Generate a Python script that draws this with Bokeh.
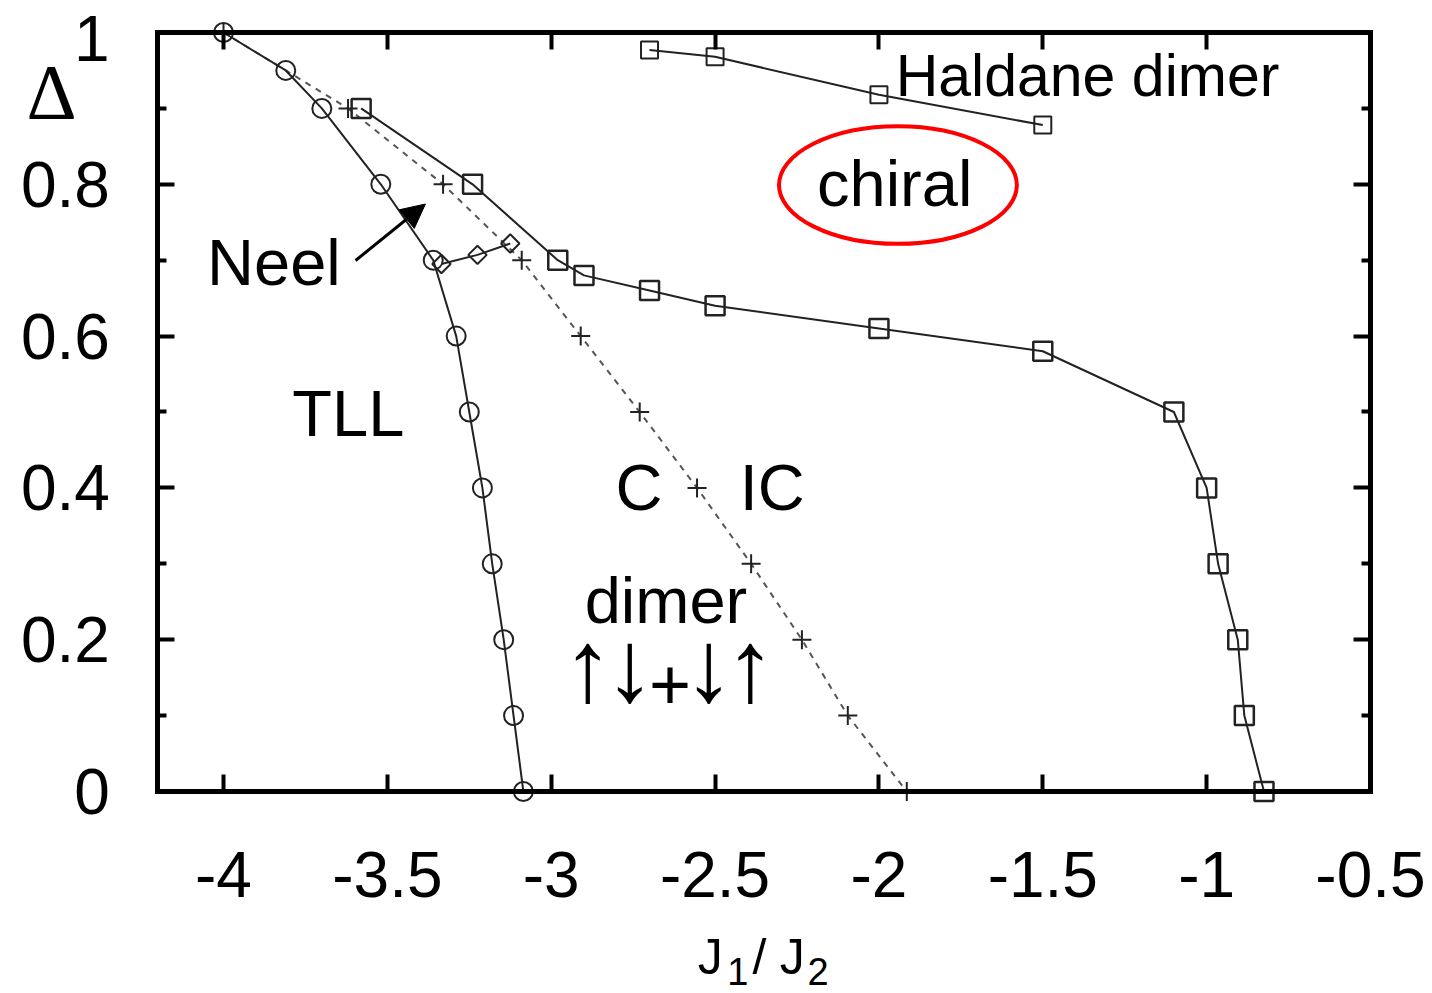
import numpy as np
from bokeh.plotting import figure
from bokeh.models import FixedTicker, LinearAxis, Range1d, Label, Arrow, NormalHead
from bokeh.embed import file_html
from bokeh.resources import INLINE

# ---- phase boundaries, J1/J2 vs Delta ----
# TLL / dimer boundary (circles)
tll_j = [-4.0, -3.81, -3.70, -3.52, -3.36, -3.29, -3.25, -3.21, -3.18, -3.145, -3.115, -3.085]
tll_d = [1.0, 0.95, 0.9, 0.8, 0.7, 0.6, 0.5, 0.4, 0.3, 0.2, 0.1, 0.0]

# commensurate / incommensurate crossover (plus, dashed)
cic_j = [-4.0, -3.62, -3.33, -3.09, -2.91, -2.73, -2.555, -2.39, -2.235, -2.095, -1.915]
cic_d = [1.0, 0.9, 0.8, 0.7, 0.6, 0.5, 0.4, 0.3, 0.2, 0.1, 0.0]

# Neel pocket (diamonds)
neel_j = [-3.335, -3.225, -3.125]
neel_d = [0.695, 0.707, 0.722]

# chiral phase boundary (squares)
chi_j = [-3.58, -3.24, -2.98, -2.90, -2.70, -2.50, -2.00, -1.50, -1.10, -1.00, -0.965, -0.905, -0.885, -0.825]
chi_d = [0.9, 0.8, 0.7, 0.68, 0.66, 0.64, 0.61, 0.58, 0.5, 0.4, 0.3, 0.2, 0.1, 0.0]

# Haldane dimer boundary (small squares)
hd_j = [-2.70, -2.50, -2.00, -1.50]
hd_d = [0.977, 0.968, 0.918, 0.878]

# highlight around the chiral label
ell_x = [-1.942]
ell_y = [0.799]
ell_w = [0.726]
ell_h = [0.155]

# axes box and ticks
x_lo, x_hi = -4.2, -0.5
y_lo, y_hi = 0.0, 1.0
x_ticks = [-4.0, -3.5, -3.0, -2.5, -2.0, -1.5, -1.0, -0.5]
x_tick_labels = ["-4", "-3.5", "-3", "-2.5", "-2", "-1.5", "-1", "-0.5"]
y_ticks = [0.0, 0.2, 0.4, 0.6, 0.8, 1.0]
y_tick_labels = ["0", "0.2", "0.4", "0.6", "0.8", "1"]
y_minor = [0.1, 0.3, 0.5, 0.7, 0.9]

FONT = "Liberation Sans"
INK = "#222222"

# the canvas is all data space; the axes box sits inside it
p = figure(width=1432, height=993,
           x_range=Range1d(-4.6805, -0.3108), y_range=Range1d(-0.26614, 1.04216),
           output_backend="svg", toolbar_location=None,
           x_axis_location=None, y_axis_location=None, min_border=0)
p.grid.visible = False
p.background_fill_color = "white"
p.border_fill_color = "white"
p.outline_line_color = None


def make_axis(loc, bounds, ticks, minor, labels, show_labels, standoff):
    ax = LinearAxis(fixed_location=loc, bounds=bounds,
                    ticker=FixedTicker(ticks=ticks, minor_ticks=minor))
    ax.axis_line_color = "black"
    ax.axis_line_width = 5
    ax.axis_line_cap = "square"
    ax.major_tick_in = 17
    ax.major_tick_out = 0
    ax.major_tick_line_width = 4
    ax.major_tick_line_color = "black"
    ax.minor_tick_in = 9
    ax.minor_tick_out = 0
    ax.minor_tick_line_width = 4
    ax.minor_tick_line_color = "black"
    if show_labels:
        ax.major_label_overrides = dict(zip(ticks, labels))
        ax.major_label_text_font = FONT
        ax.major_label_text_font_size = "64px"
        ax.major_label_text_color = "black"
        ax.major_label_standoff = standoff
    else:
        ax.major_label_overrides = {t: "" for t in ticks}
        ax.major_label_text_font_size = "0px"
        ax.major_label_standoff = 0
    return ax


p.add_layout(make_axis(y_lo, (x_lo, x_hi), x_ticks, [], x_tick_labels, True, 61), "below")
# the top tick of the left axis lies on the upper border; its label is set as a text below
p.add_layout(make_axis(x_lo, (y_lo, y_hi), y_ticks[:-1], y_minor, y_tick_labels[:-1], True, 48), "left")
p.add_layout(make_axis(y_hi, (x_lo, x_hi), x_ticks, [], x_tick_labels, False, 0), "above")
p.add_layout(make_axis(x_hi, (y_lo, y_hi), y_ticks, y_minor, y_tick_labels, False, 0), "right")

# boundary lines
p.line(cic_j, cic_d, line_color="#555555", line_width=2, line_dash="6 6")
p.scatter(cic_j, cic_d, marker="cross", size=19, line_color=INK, line_width=2)

p.line(tll_j, tll_d, line_color=INK, line_width=2)
p.scatter(tll_j, tll_d, marker="circle", size=19, fill_color=None, line_color=INK, line_width=2)

p.line(neel_j, neel_d, line_color=INK, line_width=2)
p.scatter(neel_j, neel_d, marker="square", angle=np.pi / 4, size=13,
          fill_color=None, line_color=INK, line_width=2)

p.line(chi_j, chi_d, line_color=INK, line_width=2)
p.scatter(chi_j, chi_d, marker="square", size=19, fill_color=None, line_color=INK, line_width=2.5)

p.line(hd_j, hd_d, line_color=INK, line_width=2)
p.scatter(hd_j, hd_d, marker="square", size=17, fill_color=None, line_color=INK, line_width=2)

p.ellipse(ell_x, ell_y, width=ell_w, height=ell_h, fill_color=None, line_color="red", line_width=4)


def label(x, y, text, size="65px", align="left", font=FONT):
    p.add_layout(Label(x=x, y=y, text=text, text_font=font, text_font_size=size,
                       text_color="black", text_align=align, text_baseline="alphabetic"))


# label of the top y tick
label(-4.3479, 0.99209, y_tick_labels[-1], size="64px", align="right")

# phase names
label(-1.949, 0.9433, "Haldane dimer", size="59px")
label(-1.952, 0.801, "chiral", align="center")
label(-4.05, 0.697, "Neel")
label(-3.79, 0.498, "TLL")
label(-2.804, 0.4005, "C")
label(-2.425, 0.4005, "IC")
label(-2.898, 0.2516, "dimer")

# spin pattern of the dimer phase
label(-2.8877, 0.1655, "\u2191", size="102px", align="center")
label(-2.7595, 0.1655, "\u2193", size="102px", align="center")
label(-2.6375, 0.1416, "+", size="72px", align="center")
label(-2.5185, 0.1655, "\u2193", size="102px", align="center")
label(-2.3918, 0.1655, "\u2191", size="102px", align="center")

# Delta axis title
label(-4.5249, 0.9225, "\u0394", size="78px", align="center", font="Liberation Serif")

# J1/J2 axis title with subscripts
label(-2.553, -0.2187, "J", size="50px")
label(-2.463, -0.2372, "1", size="38px")
label(-2.386, -0.2187, "/", size="50px")
label(-2.303, -0.2187, "J", size="50px")
label(-2.218, -0.2372, "2", size="38px")

p.add_layout(Arrow(end=NormalHead(size=24, fill_color="black", line_color="black"),
                   x_start=-3.597, y_start=0.6996, x_end=-3.384, y_end=0.774,
                   line_width=3, line_color="black"))

open("out.html", "w").write(file_html(p, INLINE))
